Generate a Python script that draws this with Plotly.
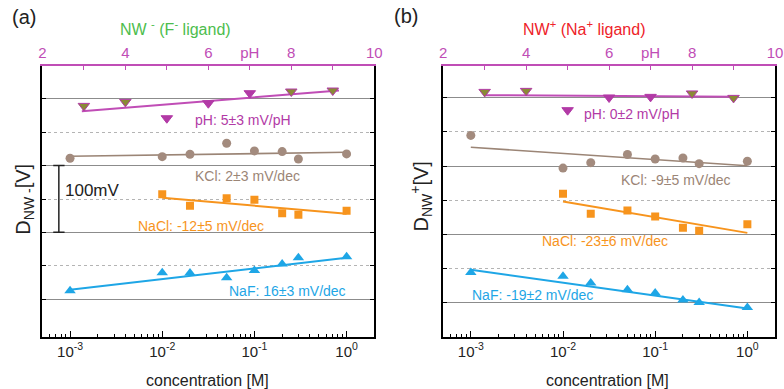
import plotly.graph_objects as go

# ---- measured data (potential shift in mV) ----
ph_values = [3, 4, 5, 6, 7, 8, 9]
conc_kcl = [0.001, 0.01, 0.02, 0.05, 0.1, 0.2, 0.3, 1.0]
conc_nacl = [0.01, 0.02, 0.05, 0.1, 0.2, 0.3, 1.0]
conc_naf = [0.001, 0.01, 0.02, 0.05, 0.1, 0.2, 0.3, 1.0]

# concentration axis ticks
conc_ticks = [0.001, 0.01, 0.1, 1.0]
conc_ticktext = ["10<sup>-3</sup>", "10<sup>-2</sup>", "10<sup>-1</sup>", "10<sup>0</sup>"]

# NW- (F- ligand)
neg_ph = [289.5, 295.5, 271.0, 293.5, 308.5, 311.0, 312.5]
neg_kcl = [211.0, 213.4, 217.0, 233.5, 222.0, 221.0, 210.0, 217.5]
neg_nacl = [157.0, 140.0, 151.0, 149.0, 128.5, 126.5, 132.5]
neg_naf = [12.5, 39.5, 39.0, 32.0, 43.0, 52.5, 62.0, 63.5]

# NW+ (Na+ ligand)
pos_ph = [308.8, 310.3, 282.0, 300.6, 301.5, 306.5, 300.0]
pos_kcl = [245.0, 197.0, 205.0, 217.0, 210.3, 211.8, 203.5, 207.0]
pos_nacl = [159.4, 130.0, 134.9, 126.0, 109.4, 105.0, 114.7]
pos_naf = [44.0, 38.2, 28.5, 18.7, 13.8, 3.5, 0.0, -7.4]

# linear fits: slope, error, start value, fitted x-extent (pH or log10 c)
neg_fits = {
    "pH":   dict(slope=5,   err=3, y0=281.5, x=[2.95, 9.15]),
    "KCl":  dict(slope=2,   err=3, y0=214.0, x=[-3, 0]),
    "NaCl": dict(slope=-12, err=5, y0=152.0, x=[-2, 0]),
    "NaF":  dict(slope=16,  err=3, y0=14.0,  x=[-3, 0]),
}
pos_fits = {
    "pH":   dict(slope=-0.4, err=2, y0=304.0, x=[3.0, 9.05]),
    "KCl":  dict(slope=-9,   err=5, y0=227.5, x=[-3, 0]),
    "NaCl": dict(slope=-23,  err=6, y0=148.0, x=[-2, 0]),
    "NaF":  dict(slope=-19,  err=2, y0=48.0,  x=[-3, 0]),
}

# ---- styling ----
PURPLE = "#b23aa6"
MAGENTA = "#c04db6"
OLIVE = "#8a8a36"
BROWN = "#a38b7e"
BROWN_LINE = "#9b8576"
ORANGE = "#f7941d"
BLUE = "#1ea6e6"
GREEN = "#4dbd4d"
RED = "#ee2229"
FONT = "Arial, Liberation Sans, sans-serif"

W, H = 784, 389


def px(x):
    return x / W


def py(y):
    return 1 - y / H


LEFT_DOM = [px(39), px(376)]
RIGHT_DOM = [px(446), px(783)]
Y_DOM = [py(336.5), py(65.5)]

ph_fill = [OLIVE, OLIVE, PURPLE, PURPLE, PURPLE, OLIVE, OLIVE]

fig = go.Figure()


def fit_line(fit, log_axis):
    xs = fit["x"]
    ys = [fit["y0"] + fit["slope"] * (v - xs[0]) for v in xs]
    if log_axis:
        xs = [10 ** v for v in xs]
    return xs, ys


def add_panel(fits, ph, kcl, nacl, naf, xc, xp, ya):
    # pH series on the top axis
    fx, fy = fit_line(fits["pH"], False)
    fig.add_trace(go.Scatter(x=fx, y=fy, mode="lines", line=dict(color=MAGENTA, width=2),
                             xaxis=xp, yaxis=ya, showlegend=False))
    fig.add_trace(go.Scatter(x=ph_values, y=ph, mode="markers",
                             marker=dict(symbol="triangle-down", size=10, color=ph_fill,
                                         line=dict(color=PURPLE, width=1)),
                             xaxis=xp, yaxis=ya, showlegend=False))
    series = [
        ("KCl", conc_kcl, kcl, BROWN, BROWN_LINE, "circle", 9, 1.6),
        ("NaCl", conc_nacl, nacl, ORANGE, ORANGE, "square", 8, 2),
        ("NaF", conc_naf, naf, BLUE, BLUE, "triangle-up", 10, 2),
    ]
    for name, cx, cy, mc, lc, sym, size, lw in series:
        fx, fy = fit_line(fits[name], True)
        fig.add_trace(go.Scatter(x=fx, y=fy, mode="lines", line=dict(color=lc, width=lw),
                                 xaxis=xc, yaxis=ya, showlegend=False))
        fig.add_trace(go.Scatter(x=cx, y=cy, mode="markers",
                                 marker=dict(symbol=sym, size=size, color=mc, line=dict(width=0)),
                                 xaxis=xc, yaxis=ya, showlegend=False))


add_panel(neg_fits, neg_ph, neg_kcl, neg_nacl, neg_naf, "x", "x3", "y")
add_panel(pos_fits, pos_ph, pos_kcl, pos_nacl, pos_naf, "x2", "x4", "y2")


def conc_axis(domain, anchor):
    return dict(type="log", domain=domain, anchor=anchor, range=[-3.3, 0.3],
                showline=True, linecolor="black", linewidth=2, mirror=False,
                ticks="inside", ticklen=6, tickwidth=1.2, tickcolor="black",
                tickmode="array", tickvals=conc_ticks, ticktext=conc_ticktext,
                tickfont=dict(family=FONT, size=15, color="#222"),
                showgrid=False, zeroline=False,
                minor=dict(dtick="D1", ticks="inside", ticklen=3,
                           tickcolor="black", tickwidth=1, showgrid=False))


def ph_axis(over, anchor):
    return dict(overlaying=over, side="top", anchor=anchor, range=[2, 10],
                showline=True, linecolor=MAGENTA, linewidth=2,
                ticks="inside", ticklen=4, tickwidth=1.2, tickcolor=MAGENTA,
                tickvals=list(range(2, 11)),
                ticktext=["2", "", "4", "", "6", "pH", "8", "", "10"],
                tickfont=dict(family=FONT, size=15, color=MAGENTA),
                showgrid=False, zeroline=False)


def pot_axis(anchor, rng):
    return dict(domain=Y_DOM, anchor=anchor, range=rng,
                showline=True, linecolor="black", linewidth=1.5, mirror="ticks",
                ticks="inside", ticklen=4, tickwidth=1.2, tickcolor="black",
                tickmode="linear", tick0=0, dtick=100, showticklabels=False,
                showgrid=True, gridcolor="#8c8c8c", gridwidth=1, zeroline=False,
                minor=dict(tickvals=[50, 150, 250], ticks="inside", ticklen=4,
                           tickcolor="black", tickwidth=1.2, showgrid=True,
                           gridcolor="#b4b4b4", griddash="dot", gridwidth=1))


fig.update_layout(
    width=W, height=H,
    margin=dict(l=0, r=0, t=0, b=0),
    paper_bgcolor="white", plot_bgcolor="white",
    font=dict(family=FONT),
    xaxis=conc_axis(LEFT_DOM, "y"),
    xaxis2=conc_axis(RIGHT_DOM, "y2"),
    xaxis3=ph_axis("x", "y"),
    xaxis4=ph_axis("x2", "y2"),
    yaxis=pot_axis("x", [-56, 350]),
    yaxis2=pot_axis("x2", [-50, 347.5]),
)

ann = []


def label(text, x, y, xref, yref, color, size, **kw):
    ann.append(dict(text=text, x=x, y=y, xref=xref, yref=yref, showarrow=False,
                    font=dict(family=FONT, size=size, color=color),
                    xanchor="center", yanchor="middle", **kw))


def fit_text(name, fit, unit):
    return f"{name}: {fit['slope']:.0f}\u00b1{fit['err']} mV/{unit}".replace("-0±", "0±")


# slope labels, left panel
label(fit_text("pH", neg_fits["pH"], "pH"), 6.84, 268.5, "x3", "y", PURPLE, 14)
label(fit_text("KCl", neg_fits["KCl"], "dec"), -1.08, 184.5, "x", "y", BROWN_LINE, 14)
label(fit_text("NaCl", neg_fits["NaCl"], "dec"), -1.58, 109.5, "x", "y", ORANGE, 14)
label(fit_text("NaF", neg_fits["NaF"], "dec"), -0.64, 12.0, "x", "y", BLUE, 14)
# slope labels, right panel
label(fit_text("pH", pos_fits["pH"], "pH"), 6.55, 276.0, "x4", "y2", PURPLE, 14)
label(fit_text("KCl", pos_fits["KCl"], "dec"), -0.77, 179.0, "x2", "y2", BROWN_LINE, 14)
label(fit_text("NaCl", pos_fits["NaCl"], "dec"), -1.54, 90.7, "x2", "y2", ORANGE, 14)
label(fit_text("NaF", pos_fits["NaF"], "dec"), -2.33, 11.3, "x2", "y2", BLUE, 14)

# panel titles and tags
label("NW <sup>-</sup> (F<sup>-</sup> ligand)", px(174), py(28), "paper", "paper", GREEN, 16)
label("NW<sup>+</sup> (Na<sup>+</sup> ligand)", px(589), py(28), "paper", "paper", RED, 16)
label("(a)", px(20), py(17), "paper", "paper", "#222", 20)
label("(b)", px(408), py(16), "paper", "paper", "#222", 20)

# axis titles
label("D<sub>NW -</sub>[V]", px(21), py(199), "paper", "paper", "#222", 20, textangle=-90)
label("D<sub>NW</sub><sup>+</sup>[V]", px(423), py(197), "paper", "paper", "#222", 20, textangle=-90)
label("concentration [M]", px(207), py(380), "paper", "paper", "#222", 16)
label("concentration [M]", px(613), py(380), "paper", "paper", "#222", 16)

# 100 mV scale bar
scale_lo, scale_hi = 100, 200
label("100mV", px(90), (scale_lo + scale_hi) / 2 + 13, "paper", "y", "#222", 17)
shapes = [
    dict(type="line", xref="paper", yref="y", x0=px(55.7), x1=px(55.7), y0=scale_lo, y1=scale_hi,
         line=dict(color="#222", width=1.5)),
    dict(type="line", xref="paper", yref="y", x0=px(50), x1=px(61.5), y0=scale_lo, y1=scale_lo,
         line=dict(color="#222", width=1.5)),
    dict(type="line", xref="paper", yref="y", x0=px(50), x1=px(61.5), y0=scale_hi, y1=scale_hi,
         line=dict(color="#222", width=1.5)),
]

fig.update_layout(annotations=ann, shapes=shapes)
fig.write_html("out.html")
